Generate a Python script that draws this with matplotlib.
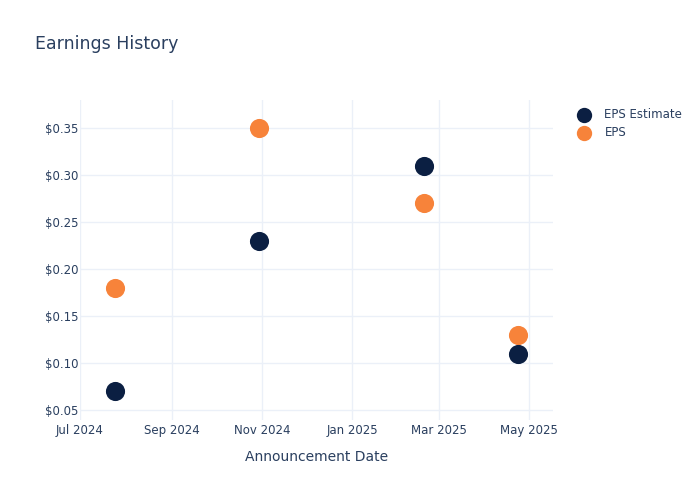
import pandas as pd
import matplotlib
matplotlib.use("Agg")
from matplotlib import pyplot as plt
import matplotlib.dates as mdates
from matplotlib.ticker import FuncFormatter

# earnings data
dates = pd.to_datetime(['2024-07-25', '2024-10-30', '2025-02-19', '2025-04-23'])
eps_estimate = [0.07, 0.23, 0.31, 0.11]
eps_actual = [0.18, 0.35, 0.27, 0.13]

text_color = '#2a3f5f'
grid_color = '#ebf0f8'

fig = plt.figure(figsize=(7, 5), dpi=100)
ax = fig.add_axes([80 / 700, 1 - 420 / 500, 473 / 700, 320 / 500])

# EPS under the estimate dots, like the original
ax.scatter(dates, eps_estimate, s=190, color='#0b1f42', label='EPS Estimate', zorder=4, linewidths=0)
ax.scatter(dates, eps_actual, s=190, color='#f7833a', label='EPS', zorder=3, linewidths=0)

ax.set_xlim(pd.Timestamp('2024-07-01'), pd.Timestamp('2025-05-17'))
ax.set_ylim(0.0394, 0.3798)
ax.set_yticks([0.05, 0.10, 0.15, 0.20, 0.25, 0.30, 0.35])
ax.yaxis.set_major_formatter(FuncFormatter(lambda v, p: '${:.2f}'.format(v)))
ax.xaxis.set_major_locator(mdates.MonthLocator(bymonth=[1, 3, 5, 7, 9, 11]))
ax.xaxis.set_major_formatter(mdates.DateFormatter('%b %Y'))

ax.grid(True, color=grid_color, linewidth=1)
ax.set_axisbelow(True)
for s in ax.spines.values():
    s.set_visible(False)
ax.tick_params(length=0, colors=text_color, labelsize=8.5)
ax.tick_params(axis='y', pad=1)
ax.tick_params(axis='x', pad=3)

ax.set_xlabel('Announcement Date', color=text_color, fontsize=10, labelpad=9)
fig.text(35 / 700, 1 - 44 / 500, 'Earnings History', color=text_color, fontsize=12.5, va='center')

leg = ax.legend(loc='upper left', bbox_to_anchor=(1.03, 0.99), frameon=False, markerscale=0.8,
                fontsize=8.5, handletextpad=0.75, labelspacing=0.4, borderaxespad=0)
for t in leg.get_texts():
    t.set_color(text_color)

plt.savefig('out.png', dpi=100)
